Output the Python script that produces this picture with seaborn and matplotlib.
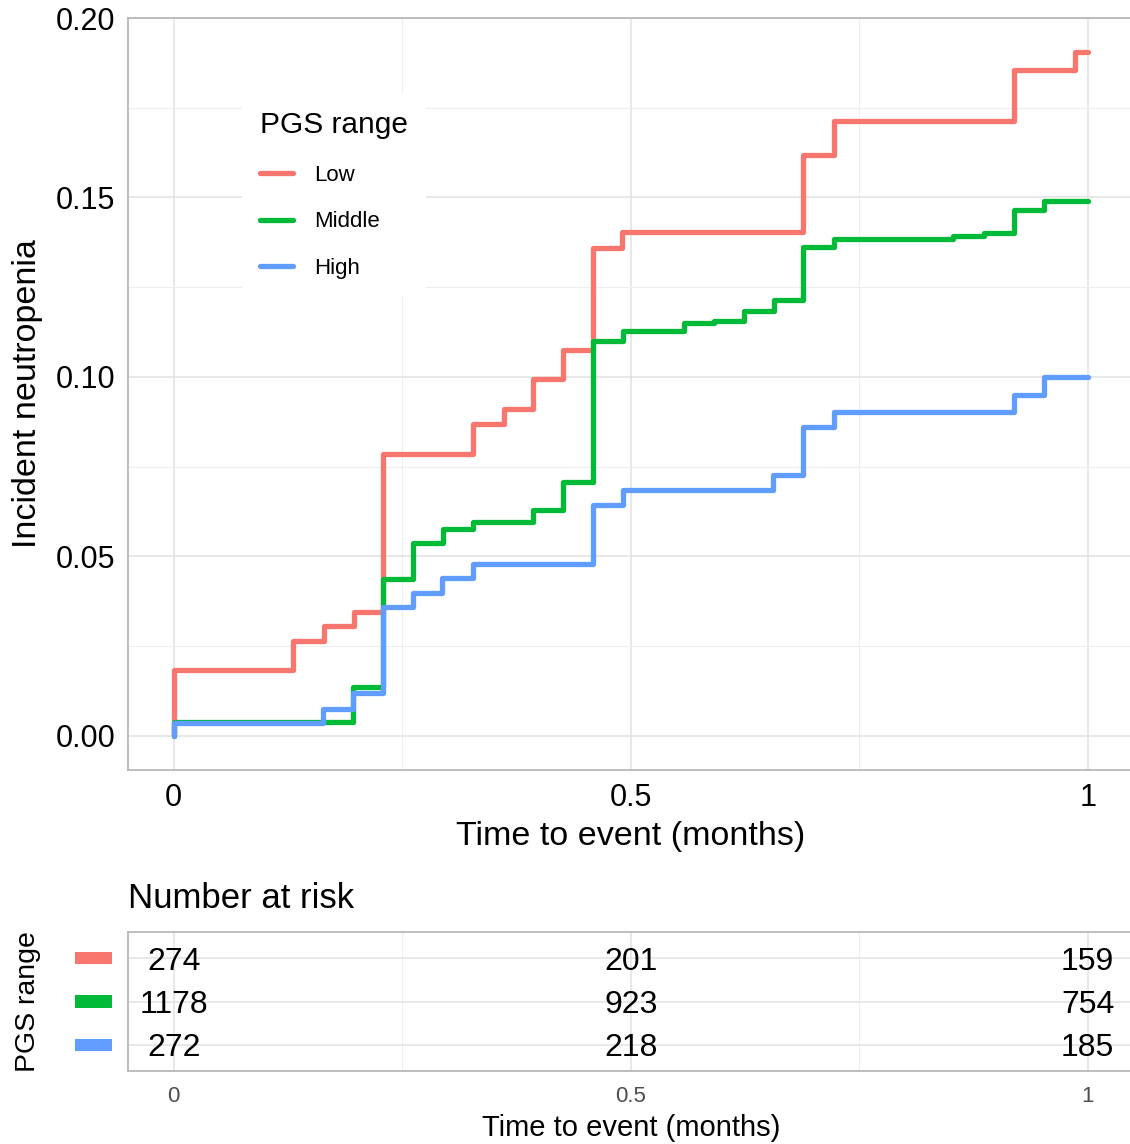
import numpy as np
import pandas as pd
import matplotlib
matplotlib.use("Agg")
import matplotlib.pyplot as plt
import matplotlib.transforms as mtransforms
from matplotlib.patches import Rectangle
from matplotlib.ticker import FixedLocator
import seaborn as sns

# ---------------- data ----------------
groups = ["Low", "Middle", "High"]
colors = ["#F8766D", "#00BA38", "#619CFF"]

time_low = [0, 0, 0.130, 0.164, 0.197, 0.229, 0.327, 0.361, 0.393, 0.426,
            0.459, 0.491, 0.689, 0.722, 0.919, 0.986, 1.0]
cif_low = [0, 0.0184, 0.0264, 0.0306, 0.0345, 0.0786, 0.0868, 0.0910, 0.0993,
           0.1074, 0.1360, 0.1405, 0.1619, 0.1713, 0.1855, 0.1905, 0.1905]

time_mid = [0, 0, 0.196, 0.229, 0.262, 0.295, 0.328, 0.393, 0.426, 0.459,
            0.492, 0.558, 0.591, 0.624, 0.657, 0.689, 0.722, 0.853, 0.886,
            0.919, 0.952, 1.0]
cif_mid = [0, 0.0039, 0.0136, 0.0437, 0.0537, 0.0576, 0.0595, 0.0629, 0.0707,
           0.1099, 0.1129, 0.1149, 0.1157, 0.1185, 0.1213, 0.1363, 0.1385,
           0.1394, 0.1402, 0.1466, 0.1491, 0.1491]

time_high = [0, 0, 0.163, 0.196, 0.229, 0.262, 0.294, 0.328, 0.459, 0.492,
             0.656, 0.689, 0.722, 0.919, 0.952, 1.0]
cif_high = [0, 0.0037, 0.0075, 0.0120, 0.0359, 0.0398, 0.0440, 0.0478, 0.0643,
            0.0684, 0.0726, 0.0860, 0.0901, 0.0951, 0.0999, 0.0999]

risk_times = [0, 0.5, 1]
risk_low = [274, 201, 159]
risk_mid = [1178, 923, 754]
risk_high = [272, 218, 185]

x_ticks = [0, 0.5, 1]
x_ticklabels = ["0", "0.5", "1"]
y_ticks = [0, 0.05, 0.10, 0.15, 0.20]
y_ticklabels = ["0.00", "0.05", "0.10", "0.15", "0.20"]

df = pd.concat([
    pd.DataFrame({"time": t, "cif": c, "group": g})
    for t, c, g in zip([time_low, time_mid, time_high],
                       [cif_low, cif_mid, cif_high], groups)
], ignore_index=True)

# ---------------- style ----------------
sns.set_theme(style="whitegrid")
plt.rcParams['font.family'] = ['Liberation Sans', 'DejaVu Sans']
plt.rcParams['text.color'] = 'black'
plt.rcParams['axes.labelcolor'] = 'black'
plt.rcParams['legend.labelcolor'] = 'black'

W, H = 1130, 1144
fig = plt.figure(figsize=(W / 100, H / 100), dpi=100)

def fx(px):
    return px / W

def fy(px):
    return 1 - px / H

ax_w = 1.1 * 914
ax = fig.add_axes([fx(128), fy(770), ax_w / W, (770 - 18) / H])
axr = fig.add_axes([fx(128), fy(1071), ax_w / W, (1071 - 932) / H])

grid_major = "#e2e2e2"
grid_minor = "#eeeeee"
spine_col = "#b3b3b3"

# ---------------- main plot ----------------
sns.lineplot(data=df, x="time", y="cif", hue="group", hue_order=groups,
             palette=colors, estimator=None, drawstyle="steps-post",
             linewidth=3.8, ax=ax, legend=True)

ax.set_xlim(-0.05, 1.05)
ax.set_ylim(-0.0095, 0.2)
ax.set_xticks(x_ticks)
ax.set_xticklabels(x_ticklabels)
ax.set_yticks(y_ticks)
ax.set_yticklabels(y_ticklabels)
ax.xaxis.set_minor_locator(FixedLocator([0.25, 0.75]))
ax.yaxis.set_minor_locator(FixedLocator([0.025, 0.075, 0.125, 0.175]))
ax.grid(which="major", color=grid_major, lw=1.1)
ax.grid(which="minor", color=grid_minor, lw=0.8)
ax.set_axisbelow(True)
ax.tick_params(axis="both", which="major", length=5, width=1.1,
               color="#333333", labelsize=22, labelcolor="black", pad=4,
               direction="out")
ax.tick_params(axis="both", which="minor", length=0)
for s in ax.spines.values():
    s.set_color(spine_col)
    s.set_linewidth(1.2)

ax.set_xlabel("Time to event (months)", fontsize=24.5, color="black")
ax.xaxis.set_label_coords(0.5, -(837 - 770) / 752)
ax.xaxis.label.set_va("center")
ax.set_ylabel("Incident neutropenia", fontsize=24.5, color="black")
ax.yaxis.set_label_coords((28 - 128) / ax_w, 0.5)
ax.yaxis.label.set_va("center")
ax.yaxis.label.set_ha("center")

handles, labels = ax.get_legend_handles_labels()
leg = ax.legend(handles, labels, title="PGS range", loc="upper left",
                bbox_to_anchor=((242 - 128) / ax_w, 1 - (93 - 18) / 752),
                frameon=True, facecolor="white", edgecolor="none",
                framealpha=1, fancybox=False, fontsize=16, title_fontsize=21.5,
                handlelength=1.5, handletextpad=0.95, labelspacing=1.16,
                borderpad=0.8, borderaxespad=0, alignment="left")
for line in leg.get_lines():
    line.set_linewidth(3.8)
for t in leg.get_texts():
    t.set_color("black")
leg.get_title().set_color("black")

# ---------------- risk table ----------------
axr.set_xlim(-0.05, 1.05)
axr.set_ylim(3.6, 0.4)
axr.set_xticks(x_ticks)
axr.set_xticklabels(x_ticklabels)
axr.xaxis.set_minor_locator(FixedLocator([0.25, 0.75]))
axr.set_yticks([1, 2, 3])
axr.set_yticklabels([])
axr.grid(which="major", color=grid_major, lw=1.1)
axr.grid(which="minor", axis="x", color=grid_minor, lw=0.8)
axr.set_axisbelow(True)
axr.tick_params(axis="x", which="major", length=5, width=1.1,
                color=spine_col, labelsize=16, labelcolor="#4d4d4d", pad=6,
                direction="out")
axr.tick_params(axis="x", which="minor", length=0)
axr.tick_params(axis="y", length=0)
for s in axr.spines.values():
    s.set_color(spine_col)
    s.set_linewidth(1.2)

for row, vals in enumerate([risk_low, risk_mid, risk_high], start=1):
    for t, v in zip(risk_times, vals):
        axr.text(t, row, str(v), ha="center", va="center_baseline",
                 fontsize=23, color="black")

trans = mtransforms.blended_transform_factory(axr.transAxes, axr.transData)
for row, col in enumerate(colors, start=1):
    axr.add_patch(Rectangle(((75 - 128) / ax_w, row - 0.14), 37 / ax_w, 0.28,
                            transform=trans, color=col, clip_on=False, lw=0))

axr.set_xlabel("Time to event (months)", fontsize=21, color="black")
axr.xaxis.set_label_coords(0.5, -(1128 - 1071) / 139)
axr.xaxis.label.set_va("center")
axr.set_ylabel("PGS range", fontsize=20.5, color="black")
axr.yaxis.set_label_coords((28 - 128) / ax_w, 0.5)
axr.yaxis.label.set_va("center")
axr.yaxis.label.set_ha("center")
axr.text(0, 1 + (932 - 898) / 139, "Number at risk", transform=axr.transAxes,
         fontsize=25, ha="left", va="center", color="black")

fig.savefig("out.png", dpi=100)
